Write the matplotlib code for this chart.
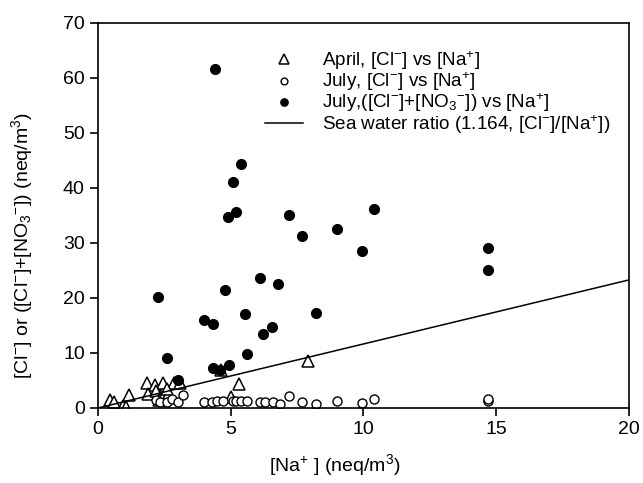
import matplotlib
matplotlib.use('Agg')
import matplotlib.pyplot as plt
import numpy as np

plt.rcParams['font.family'] = ['Liberation Sans', 'DejaVu Sans']
plt.rcParams['mathtext.fontset'] = 'custom'
plt.rcParams['mathtext.rm'] = 'Liberation Sans'
plt.rcParams['mathtext.it'] = 'Liberation Sans:italic'
plt.rcParams['mathtext.default'] = 'rm'

# April, [Cl-] vs [Na+]
apr_na = [0.45, 0.6, 0.95, 1.05, 1.15, 1.85, 2.15, 2.45, 2.85, 3.1,
          1.9, 2.2, 2.4, 2.65, 2.3, 2.6, 4.65, 5.3, 5.0, 7.9]
apr_cl = [1.4, 1.0, 0.4, 0.2, 2.3, 4.6, 4.2, 4.5, 4.5, 4.5,
          2.5, 3.1, 2.0, 2.4, 1.5, 3.5, 6.9, 4.3, 2.0, 8.6]

# July, [Cl-] vs [Na+]
jul_na = [2.2, 2.35, 2.6, 2.8, 3.0, 3.2, 4.0, 4.3, 4.5, 4.7, 5.1, 5.2,
          5.4, 5.6, 6.1, 6.3, 6.6, 6.85, 7.2, 7.7, 8.2, 9.0, 9.95, 10.4,
          14.7, 14.7]
jul_cl = [1.4, 1.1, 1.0, 1.7, 1.1, 2.4, 1.1, 1.1, 1.2, 1.2, 1.2, 1.3,
          1.2, 1.2, 1.15, 1.0, 1.0, 0.7, 2.25, 1.1, 0.7, 1.3, 0.85, 1.65,
          1.2, 1.6]

# July, ([Cl-]+[NO3-]) vs [Na+]
jul_na2 = [4.4, 5.4, 5.1, 5.2, 4.9, 7.2, 7.7, 9.0, 10.4, 9.95,
           6.1, 6.8, 4.8, 2.25, 4.0, 4.35, 5.55, 8.2, 6.55, 6.2,
           5.6, 4.95, 4.35, 4.6, 2.6, 3.0, 14.7, 14.7]
jul_clno3 = [61.6, 44.4, 41.0, 35.6, 34.7, 35.1, 31.3, 32.5, 36.1, 28.5,
             23.7, 22.5, 21.4, 20.2, 16.0, 15.2, 17.0, 17.2, 14.8, 13.4,
             9.8, 7.9, 7.3, 6.9, 9.0, 5.1, 29.1, 25.1]

sea_ratio = 1.164
line_x = np.array([0, 20])

fig = plt.figure(figsize=(6.43, 4.83), dpi=100)
ax = fig.add_axes([0.1524, 0.1553, 0.8256, 0.7971])

ax.plot(apr_na, apr_cl, linestyle='none', marker='^', markersize=9,
        markerfacecolor='white', markeredgecolor='black', markeredgewidth=1.1,
        label='April, [Cl$^{-}$] vs [Na$^{+}$]')
ax.plot(jul_na, jul_cl, linestyle='none', marker='o', markersize=6.5,
        markerfacecolor='white', markeredgecolor='black', markeredgewidth=1.0,
        label='July, [Cl$^{-}$] vs [Na$^{+}$]')
ax.plot(jul_na2, jul_clno3, linestyle='none', marker='o', markersize=7,
        color='black', label='July,([Cl$^{-}$]+[NO$_3$$^{-}$]) vs [Na$^{+}$]')
ax.plot(line_x, sea_ratio * line_x, color='black', linewidth=1.1,
        label='Sea water ratio (1.164, [Cl$^{-}$]/[Na$^{+}$])')

ax.set_xlim(0, 20)
ax.set_ylim(0, 70)
ax.set_xticks([0, 5, 10, 15, 20])
ax.set_yticks(np.arange(0, 71, 10))
ax.tick_params(direction='out', labelsize=14, length=6, width=1.2)
for s in ax.spines.values():
    s.set_linewidth(1.2)

ax.set_xlabel('[Na$^{+}$ ] (neq/m$^{3}$)', fontsize=14)
ax.set_ylabel('[Cl$^{-}$] or ([Cl$^{-}$]+[NO$_3$$^{-}$]) (neq/m$^{3}$)', fontsize=14)
ax.xaxis.set_label_coords(0.446, -0.115)
ax.yaxis.set_label_coords(-0.118, 0.423)

ax.legend(loc='upper right', bbox_to_anchor=(0.99, 0.966), frameon=False,
          fontsize=13.6, handlelength=2.0, handletextpad=1.0, labelspacing=-0.08,
          markerscale=0.75, borderaxespad=0.3)

fig.savefig('out.png', dpi=100)
